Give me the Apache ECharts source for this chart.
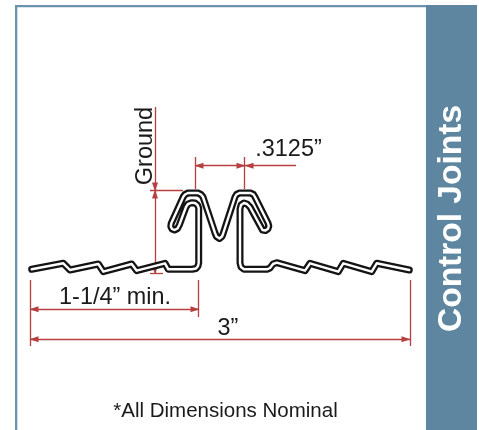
<!DOCTYPE html>
<html>
<head>
<meta charset="utf-8">
<style>html,body{margin:0;padding:0;background:#fff}#c{width:479px;height:430px}</style>
<script src="https://cdn.jsdelivr.net/npm/echarts@6/dist/echarts.min.js"></script>
</head>
<body>
<div id="c"></div>
<script>
// Joint profile, in picture units
const profileX = [31.7,63.3,70,98.3,103.3,131.7,136.7,165,168.3,192,196,198,198.7,198.7,197.5,195,192,188,186,179.3,177.5,174.5,172,170.8,171.2,172,183.3,185,188,198,201,203,215,216.5,219.5,222,223,235,236.5,239.5,250.5,253.5,255,268,268.8,268,265.5,262.5,260.5,250,247,244,241,240,240,241,244,267,270,273,276.7,305,310,338.3,343.3,371.7,376.7,409.3];
const profileY = [269.3,263.3,270,264,271.7,264,270.7,263.3,269.3,269.3,268.5,266,263,208,205,203,202.7,204,207,225,228.5,230,229,226.5,223.5,222,196.7,194.5,193,193,194.5,197,233,236.5,238.5,236.5,234,197,194.5,193,193,194.5,197,223,226,228.8,230.5,230,228,207,204,203,205,209,263,267,269.3,269.3,268,264,262.7,270.7,263.3,271.7,263.3,271.7,263.3,270];

// Dimension lines: [x1, y1, x2, y2]
const extensionLines = [
  [30,280,30,346],[198.7,280,198.7,317],[410,280,410,346],
  [150,190.7,183,190.7],[150,273.3,163,273.3],
  [195,157,195,189],[244.7,157,244.7,189],
  [30,309.3,198.7,309.3],[30,339.3,410,339.3],[195,165.7,244.7,165.7],
  [155,107,155,190.7],[155,190.7,155,273.3],[296,165.7,244.7,165.7]
];
// Arrow shafts end half a head short of the tip: [x1, y1, x2, y2] of the head's axis
const arrowHeads = [
  [38,309.3,34,309.3],[191,309.3,195,309.3],
  [38,339.3,34,339.3],[402,339.3,406,339.3],
  [203,165.7,199,165.7],[237,165.7,241,165.7],[253,165.7,249,165.7],
  [155,183,155,187],[155,198,155,194],[155,266,155,270]
];
const labels = [
  {text:'Ground',x:145.5,y:146,size:23.5,rot:90},
  {text:'.3125”',x:288.5,y:150,size:23.5,rot:0},
  {text:'1-1/4” min.',x:115,y:298,size:23.4,rot:0},
  {text:'3”',x:228,y:329,size:23.4,rot:0},
  {text:'*All Dimensions Nominal',x:225.5,y:411.5,size:20.5,rot:0}
];
const panelTitle = 'Control Joints';

const RED='#b5403f', BLUE='#5f86a1';
const pts = profileX.map((x,i)=>[x,profileY[i]]);
const seg = a=>[{coord:[a[0],a[1]]},{coord:[a[2],a[3]]}];
const ml = (rows,symbol)=>({silent:true,animation:false,symbol,symbolSize:[6,9],label:{show:false},emphasis:{disabled:true},
  lineStyle:{color:RED,width:1.3,type:'solid',opacity:1},itemStyle:{color:RED},data:rows.map(seg)});
const base = {type:'line',symbol:'none',silent:true,animation:false,clip:false,data:pts};

const chart = echarts.init(document.getElementById('c'));
chart.setOption({
  animation:false,
  grid:{left:0,top:0,width:479,height:430,show:false},
  xAxis:{type:'value',min:0,max:479,show:false},
  yAxis:{type:'value',min:0,max:430,inverse:true,show:false},
  series:[
    {type:'line',silent:true,data:[],markLine:ml(extensionLines,'none')},
    {type:'line',silent:true,data:[],markLine:ml(arrowHeads,['none','triangle'])},
    Object.assign({},base,{lineStyle:{color:'#141414',width:7,join:'round',cap:'round'},z:5}),
    Object.assign({},base,{lineStyle:{color:'#ffffff',width:2.4,join:'round',cap:'round'},z:6})
  ],
  graphic:[
    {type:'rect',shape:{x:15,y:5,width:412,height:2.3},style:{fill:'#6b93ad'},silent:true},
    {type:'rect',shape:{x:15,y:5,width:2.3,height:425},style:{fill:'#6b93ad'},silent:true},
    {type:'rect',shape:{x:426,y:5,width:51,height:425},style:{fill:BLUE},silent:true},
    {type:'text',x:452,y:218.5,rotation:Math.PI/2,style:{text:panelTitle,fill:'#fff',font:'bold 33.5px "Liberation Sans"',textAlign:'center',textVerticalAlign:'middle'},silent:true}
  ].concat(labels.map(l=>({type:'text',x:l.x,y:l.y,rotation:l.rot*Math.PI/180,silent:true,
    style:{text:l.text,fill:'#1a1a1a',font:l.size+'px "Liberation Sans"',textAlign:'center',textVerticalAlign:'middle'}})))
});
</script>
</body>
</html>
